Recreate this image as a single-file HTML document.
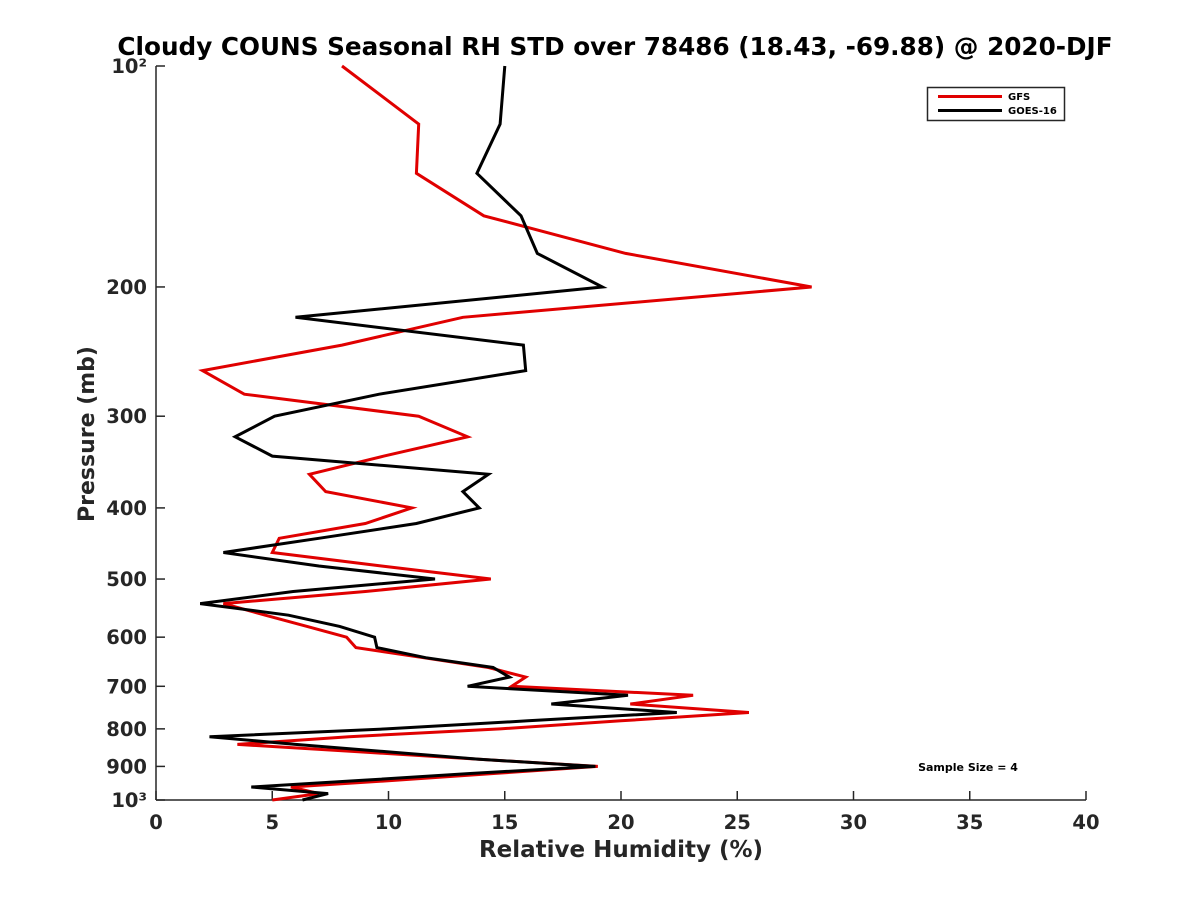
<!DOCTYPE html>
<html><head><meta charset="utf-8"><style>
html,body{margin:0;padding:0;background:#fff;}
svg text{font-family:"DejaVu Sans","Liberation Sans",sans-serif;font-weight:bold;fill:#262626;}
</style></head><body>
<svg id="chart" width="1200" height="900" viewBox="0 0 1200 900" xmlns="http://www.w3.org/2000/svg">
<rect width="1200" height="900" fill="#fff"/>
<text x="615" y="55" text-anchor="middle" font-size="24.7" style="fill:#000">Cloudy COUNS Seasonal RH STD over 78486 (18.43, -69.88) @ 2020-DJF</text>
<g id="axes"></g>
<g id="series"></g>
<text x="621" y="857" text-anchor="middle" font-size="23">Relative Humidity (%)</text>
<text transform="translate(94,434) rotate(-90)" text-anchor="middle" font-size="22">Pressure (mb)</text>
<text x="968" y="771" text-anchor="middle" font-size="11" style="fill:#000">Sample Size = 4</text>
<g>
<rect x="927.5" y="87.5" width="137" height="33" fill="#fff" stroke="#262626" stroke-width="1.5"/>
<line x1="938" y1="96.5" x2="1002" y2="96.5" stroke="#e00000" stroke-width="3"/>
<text x="1008" y="100" font-size="10" style="fill:#000">GFS</text>
<line x1="938" y1="110.5" x2="1002" y2="110.5" stroke="#000" stroke-width="3"/>
<text x="1008" y="114" font-size="10" style="fill:#000">GOES-16</text>
</g>
</svg>
<script>
const levels = [100,120,140,160,180,200,220,240,260,280,300,320,340,360,380,400,420,440,460,480,500,520,540,560,580,600,620,640,660,680,700,720,740,760,780,800,820,840,860,880,900,920,940,960,980,1000];
const gfsValues = [8.0,11.3,11.2,14.1,20.2,28.2,13.2,8.0,2.0,3.8,11.3,13.4,9.8,6.6,7.3,11.0,9.0,5.3,5.0,9.7,14.4,9.0,2.9,4.7,6.5,8.2,8.6,11.5,14.3,15.9,15.3,23.1,20.4,25.5,20.0,14.8,8.3,3.5,8.8,13.9,19.0,14.6,10.3,5.8,7.0,5.0];
const goesValues = [15.0,14.8,13.8,15.7,16.4,19.2,6.0,15.8,15.9,9.6,5.1,3.4,5.0,14.3,13.2,13.9,11.2,7.0,2.9,7.0,12.0,5.9,1.9,5.7,7.9,9.4,9.5,11.6,14.5,15.2,13.4,20.3,17.0,22.4,16.0,9.9,2.3,6.0,10.0,13.9,18.9,13.6,8.9,4.1,7.4,6.3];
const xTicks = [0,5,10,15,20,25,30,35,40];
const yTicks = [100,200,300,400,500,600,700,800,900,1000];
const yTickLabels = ["10²","200","300","400","500","600","700","800","900","10³"];

const X0=156, X1=1086, Y0=66, Y1=800;
function xs(v){return X0+(v-0)/(40-0)*(X1-X0);}
function ys(p){return Y0+(Math.log10(p)-2)/(3-2)*(Y1-Y0);}
const NS="http://www.w3.org/2000/svg";
const axes=document.getElementById('axes');
const series=document.getElementById('series');
function mk(tag,attrs,parent){const e=document.createElementNS(NS,tag);for(const k in attrs)e.setAttribute(k,attrs[k]);parent.appendChild(e);return e;}

let e=mk('line',{x1:X0,y1:Y0,x2:X0,y2:Y1,stroke:'#262626','stroke-width':1.5},axes);


e=mk('line',{x1:X0,y1:Y1,x2:X1,y2:Y1,stroke:'#262626','stroke-width':1.5},axes);



xTicks.forEach(t=>{
  const x=xs(t);
  let l=mk('line',{x1:x,y1:Y1,x2:x,y2:Y1-9,stroke:'#262626','stroke-width':1.5},axes);
  
  
  let tx=mk('text',{x:x,y:Y1+29,'text-anchor':'middle','font-size':19.5},axes);
  tx.textContent=t;
  
  
});
yTicks.forEach((t,i)=>{
  const y=ys(t);
  let l=mk('line',{x1:X0,y1:y,x2:X0+9,y2:y,stroke:'#262626','stroke-width':1.5},axes);
  
  
  let tx=mk('text',{x:X0-9,y:y+7,'text-anchor':'end','font-size':19.5},axes);
  tx.textContent=yTickLabels[i];
  
  
});

function drawLine(vals,color,name){
  const pts=vals.map((v,i)=>xs(v).toFixed(1)+','+ys(levels[i]).toFixed(1)).join(' ');
  const p=mk('polyline',{points:pts,fill:'none',stroke:color,'stroke-width':3,'stroke-linejoin':'miter'},series);
  
  
}
drawLine(gfsValues,'#e00000','gfs-line');
drawLine(goesValues,'#000000','goes16-line');
</script>
</body></html>
